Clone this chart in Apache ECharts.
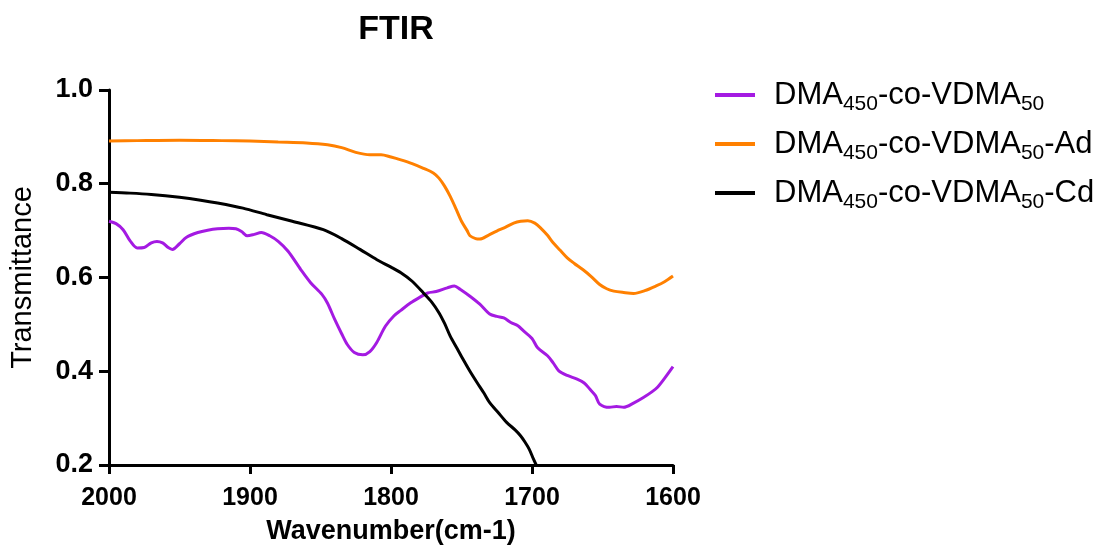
<!DOCTYPE html>
<html>
<head>
<meta charset="utf-8">
<script src="https://cdn.jsdelivr.net/npm/echarts@6/dist/echarts.min.js"></script>
<style>
  html, body { margin: 0; padding: 0; background: #fff; }
  #chart { width: 1105px; height: 556px; }
</style>
</head>
<body>
<div id="chart"></div>
<script>
// wavenumber (cm-1) and transmittance
var waveA = [2000, 1995, 1990, 1985, 1980, 1975, 1970, 1966, 1962, 1958, 1955, 1950, 1945, 1937, 1930, 1923, 1915, 1910, 1906, 1902, 1897, 1892, 1886, 1880, 1873, 1864, 1857, 1849, 1845, 1840, 1835, 1831, 1826, 1820, 1815, 1810, 1804, 1798, 1793, 1786, 1780, 1774, 1768, 1760, 1755, 1751, 1744, 1737, 1730, 1725, 1720, 1715, 1710, 1706, 1700, 1696, 1689, 1685, 1681, 1675, 1668, 1663, 1659, 1655, 1652, 1645, 1640, 1635, 1628, 1621, 1615, 1611, 1606, 1600];
var transA = [0.720, 0.715, 0.702, 0.678, 0.663, 0.664, 0.674, 0.677, 0.674, 0.664, 0.660, 0.672, 0.686, 0.696, 0.701, 0.704, 0.705, 0.704, 0.698, 0.689, 0.692, 0.696, 0.689, 0.677, 0.656, 0.617, 0.589, 0.564, 0.545, 0.511, 0.480, 0.457, 0.440, 0.435, 0.442, 0.462, 0.496, 0.518, 0.530, 0.546, 0.557, 0.567, 0.570, 0.578, 0.582, 0.575, 0.560, 0.543, 0.522, 0.517, 0.514, 0.504, 0.497, 0.486, 0.470, 0.450, 0.433, 0.418, 0.401, 0.391, 0.383, 0.375, 0.362, 0.348, 0.330, 0.323, 0.325, 0.323, 0.332, 0.344, 0.356, 0.366, 0.385, 0.410];

var waveB = [2000, 1980, 1950, 1920, 1900, 1880, 1860, 1845, 1835, 1825, 1815, 1807, 1800, 1793, 1785, 1777, 1770, 1766, 1762, 1758, 1754, 1750, 1746, 1744, 1740, 1737, 1731, 1725, 1719, 1713, 1708, 1703, 1698, 1694, 1689, 1685, 1680, 1675, 1670, 1664, 1658, 1652, 1647, 1642, 1635, 1628, 1620, 1612, 1606, 1600];
var transB = [0.891, 0.892, 0.893, 0.892, 0.891, 0.889, 0.887, 0.883, 0.877, 0.867, 0.862, 0.862, 0.857, 0.851, 0.843, 0.833, 0.823, 0.812, 0.795, 0.773, 0.747, 0.720, 0.700, 0.689, 0.683, 0.682, 0.690, 0.699, 0.707, 0.716, 0.720, 0.721, 0.716, 0.706, 0.690, 0.674, 0.658, 0.642, 0.630, 0.617, 0.602, 0.585, 0.576, 0.571, 0.568, 0.566, 0.572, 0.582, 0.591, 0.603];

var waveC = [2000, 1985, 1970, 1950, 1935, 1923, 1905, 1888, 1870, 1848, 1835, 1822, 1810, 1800, 1793, 1785, 1777, 1771, 1766, 1762, 1758, 1753, 1749, 1744, 1739, 1734, 1730, 1724, 1718, 1712, 1708, 1705, 1702, 1699, 1697];
var transC = [0.782, 0.780, 0.777, 0.771, 0.765, 0.759, 0.748, 0.734, 0.720, 0.702, 0.683, 0.660, 0.638, 0.622, 0.610, 0.592, 0.567, 0.547, 0.525, 0.502, 0.475, 0.448, 0.426, 0.400, 0.376, 0.353, 0.333, 0.312, 0.291, 0.275, 0.262, 0.249, 0.234, 0.213, 0.200];

var seriesNames = ['DMA450-co-VDMA50', 'DMA450-co-VDMA50-Ad', 'DMA450-co-VDMA50-Cd'];
var legendLabels = ['DMA{s|450}-co-VDMA{s|50}', 'DMA{s|450}-co-VDMA{s|50}-Ad', 'DMA{s|450}-co-VDMA{s|50}-Cd'];
var colors = ['#a41ae2', '#ff8000', '#000000'];

function zip(xs, ys) {
  return xs.map(function (x, i) { return [x, ys[i]]; });
}

var chart = echarts.init(document.getElementById('chart'));

var option = {
  animation: false,
  color: colors,
  title: {
    text: 'FTIR',
    left: 391,
    top: 8,
    textAlign: 'center',
    textStyle: { fontFamily: 'Liberation Sans', fontSize: 34, fontWeight: 'bold', color: '#000' }
  },
  legend: {
    orient: 'vertical',
    left: 710,
    top: 70,
    itemGap: 9,
    itemWidth: 40,
    itemHeight: 4,
    icon: 'rect',
    data: seriesNames,
    formatter: function (name) {
      return legendLabels[seriesNames.indexOf(name)];
    },
    textStyle: {
      fontFamily: 'Liberation Sans',
      fontSize: 31,
      lineHeight: 40,
      color: '#000',
      padding: [0, 0, 0, 14],
      rich: {
        s: { fontFamily: 'Liberation Sans', fontSize: 21, lineHeight: 15, verticalAlign: 'bottom', color: '#000' }
      }
    }
  },
  grid: { left: 107, right: 432, top: 90, bottom: 91, containLabel: false },
  xAxis: {
    type: 'value',
    inverse: true,
    min: 1600,
    max: 2000,
    interval: 100,
    name: 'Wavenumber(cm-1)',
    nameLocation: 'middle',
    nameGap: 53,
    nameTextStyle: { fontFamily: 'Liberation Sans', fontSize: 27, fontWeight: 'bold', color: '#000' },
    axisLine: { onZero: false, lineStyle: { color: '#000', width: 3 } },
    axisTick: { show: true, length: 9, lineStyle: { color: '#000', width: 3 } },
    axisLabel: {
      margin: 21,
      fontFamily: 'Liberation Sans',
      fontSize: 25,
      fontWeight: 'bold',
      color: '#000',
      formatter: function (v) { return String(v); }
    },
    splitLine: { show: false }
  },
  yAxis: {
    type: 'value',
    min: 0.2,
    max: 1.0,
    interval: 0.2,
    name: 'Transmittance',
    nameLocation: 'middle',
    nameGap: 72,
    nameTextStyle: { fontFamily: 'Liberation Sans', fontSize: 29, color: '#000' },
    axisLine: { show: true, onZero: false, lineStyle: { color: '#000', width: 3 } },
    axisTick: { show: true, length: 10, lineStyle: { color: '#000', width: 3 } },
    axisLabel: {
      margin: 16,
      fontFamily: 'Liberation Sans',
      fontSize: 27,
      fontWeight: 'bold',
      color: '#000',
      formatter: function (v) { return v.toFixed(1); }
    },
    splitLine: { show: false }
  },
  series: [
    {
      name: seriesNames[0],
      type: 'line',
      data: zip(waveA, transA),
      smooth: 0.3,
      showSymbol: false,
      lineStyle: { width: 3, color: colors[0] }
    },
    {
      name: seriesNames[1],
      type: 'line',
      data: zip(waveB, transB),
      smooth: 0.3,
      showSymbol: false,
      lineStyle: { width: 3, color: colors[1] }
    },
    {
      name: seriesNames[2],
      type: 'line',
      data: zip(waveC, transC),
      smooth: 0.3,
      showSymbol: false,
      lineStyle: { width: 3, color: colors[2] }
    }
  ]
};

chart.setOption(option);
</script>
</body>
</html>
